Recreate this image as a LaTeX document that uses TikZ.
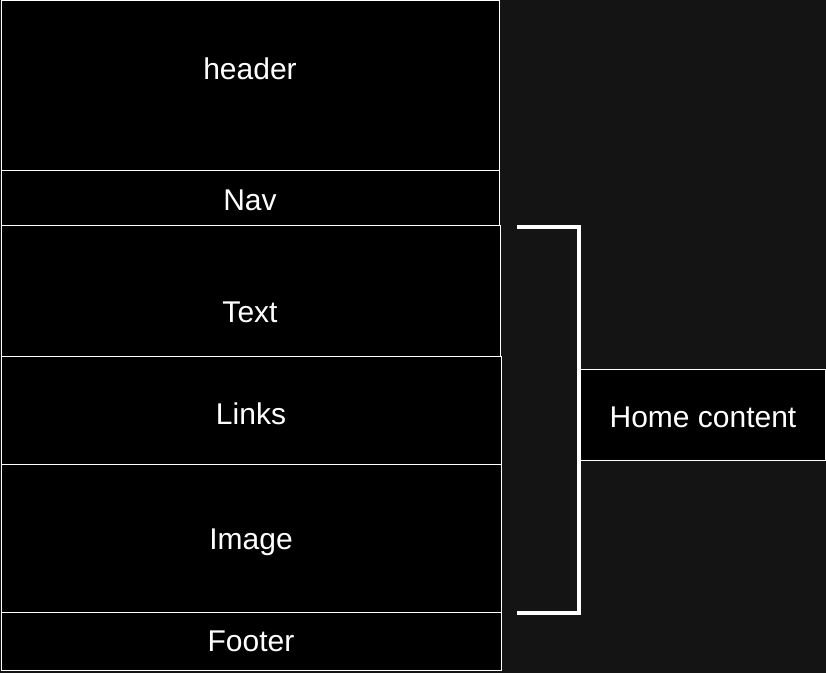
\documentclass[tikz,border=0pt]{standalone}
\usepackage{fontspec}
\setmainfont{Liberation Sans}
\definecolor{bgc}{HTML}{141414}
\begin{document}
\begin{tikzpicture}[x=0.75pt,y=-0.75pt,
  blk/.style={draw=white,fill=black,line width=0.75pt},
  lbl/.style={text=white,font=\fontsize{22.5}{27}\selectfont,inner sep=0pt,anchor=center}]
\fill[bgc] (0,0) rectangle (826,673);
\useasboundingbox (0,0) rectangle (826,673);
\draw[blk] (1,1) rectangle (499,171);
\draw[blk] (1,171) rectangle (499,226);
\draw[blk] (1,226) rectangle (500,357);
\draw[blk] (1,357) rectangle (501,465);
\draw[blk] (1,465) rectangle (501,613);
\draw[blk] (1,613) rectangle (501,671);
\draw[blk] (580,370) rectangle (825,461);
\node[lbl] (header) at (250,69) {header};
\node[lbl] (nav) at (250,200) {Nav};
\node[lbl] (text) at (250,312) {Text};
\node[lbl] (links) at (251,414) {Links};
\node[lbl] (image) at (251,542.5) {Image};
\node[lbl] (footer) at (251,641) {Footer};
\node[lbl] (home) at (703,417) {Home content};
\coordinate (bt) at (517,227.5);
\coordinate (bb) at (517,613.5);
\draw[white,line width=3pt] (bt) -- (578.5,227.5) -- (578.5,613.5) -- (bb);
\end{tikzpicture}
\end{document}
